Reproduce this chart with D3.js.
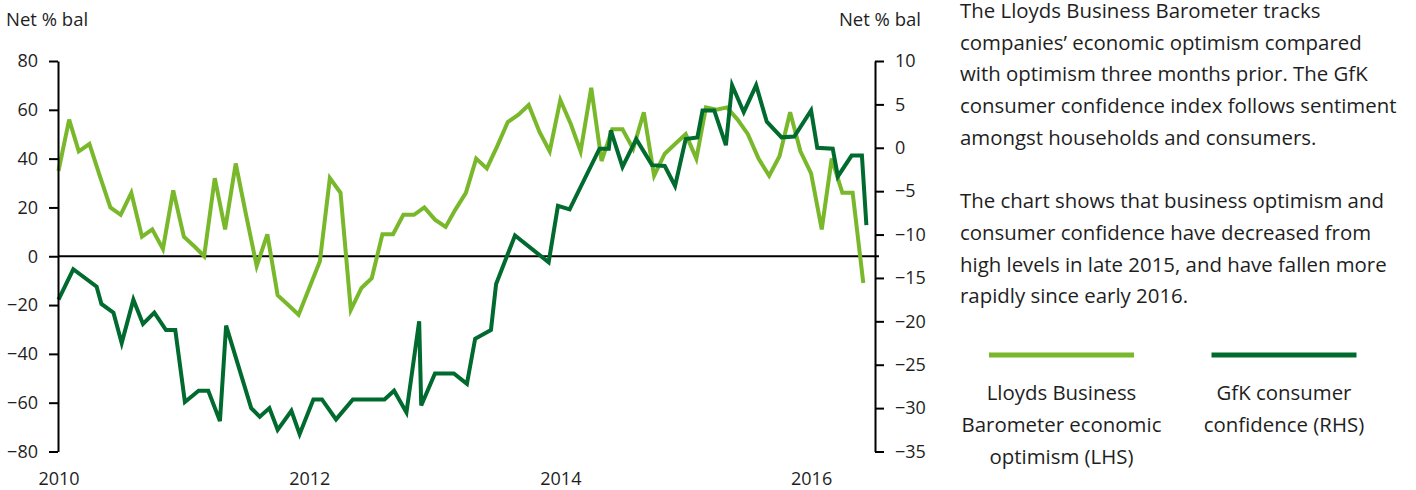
<!DOCTYPE html>
<html>
<head>
<meta charset="utf-8">
<script src="https://cdn.jsdelivr.net/npm/d3@7"></script>
<style>
  body { margin: 0; background: #fff; }
  text { font-family: "Open Sans", sans-serif; fill: #1e1e1e; }
</style>
</head>
<body>
<div id="chart"></div>
<script>
// Lloyds Business Barometer, economic optimism (LHS), monthly
const lloydsMonths = [
  "2010-01","2010-02","2010-03","2010-04","2010-05","2010-06","2010-07","2010-08","2010-09","2010-10","2010-11","2010-12",
  "2011-01","2011-02","2011-03","2011-04","2011-05","2011-06","2011-07","2011-08","2011-09","2011-10","2011-11","2011-12",
  "2012-01","2012-02","2012-03","2012-04","2012-05","2012-06","2012-07","2012-08","2012-09","2012-10","2012-11","2012-12",
  "2013-01","2013-02","2013-03","2013-04","2013-05","2013-06","2013-07","2013-08","2013-09","2013-10","2013-11","2013-12",
  "2014-01","2014-02","2014-03","2014-04","2014-05","2014-06","2014-07","2014-08","2014-09","2014-10","2014-11","2014-12",
  "2015-01","2015-02","2015-03","2015-04","2015-05","2015-06","2015-07","2015-08","2015-09","2015-10","2015-11","2015-12",
  "2016-01","2016-02","2016-03","2016-04","2016-05","2016-06"
];
const lloydsValues = [
  35, 56, 43, 46, 33, 20, 17, 26, 8, 11, 3, 27,
  8, 4, 0, 32, 11, 38, 17, -4, 9, -16, -20, -24,
  -13, -2, 32, 26, -22, -13, -9, 9, 9, 17, 17, 20,
  15, 12, 19, 26, 40, 36, 45, 55, 58, 62, 51, 43,
  64, 54, 43, 69, 39, 52, 52, 44, 59, 33, 42, 46,
  50, 40, 61, 60, 61, 56, 50, 40, 33, 41, 59, 43,
  34, 11, 40, 26, 26, -11
];

// GfK consumer confidence (RHS)
const gfkDates = [
  "2010-01-01","2010-02-13","2010-04-22","2010-05-06","2010-06-10","2010-07-04","2010-08-07","2010-09-04","2010-10-07","2010-11-10","2010-12-07",
  "2011-01-04","2011-02-13","2011-03-13","2011-04-16","2011-05-04","2011-07-16","2011-08-10","2011-09-07","2011-10-01","2011-11-10","2011-12-04",
  "2012-01-13","2012-02-07","2012-03-19","2012-05-07","2012-08-07","2012-09-04","2012-10-10","2012-11-16","2012-11-22",
  "2013-01-01","2013-02-25","2013-04-04","2013-04-28","2013-06-13","2013-06-28","2013-08-22","2013-11-28","2013-12-25",
  "2014-01-28","2014-04-25","2014-05-22","2014-05-28","2014-07-01","2014-08-10","2014-09-25","2014-11-01","2014-12-01",
  "2015-01-01","2015-02-04","2015-02-19","2015-03-25","2015-04-28","2015-05-16","2015-06-19","2015-07-25","2015-08-25","2015-10-07","2015-11-13",
  "2016-01-01","2016-01-19","2016-03-04","2016-03-19","2016-04-28","2016-05-28","2016-06-10"
];
const gfkValues = [
  -17.5, -14, -16, -18, -19, -22.5, -17.5, -20.3, -19, -21, -21,
  -29.3, -28, -28, -31.5, -20.5, -30, -31, -30, -32.5, -30.3, -33,
  -29, -29, -31.3, -29, -29, -28, -30.5, -20, -29.7,
  -26, -26, -27.2, -22, -21, -15.7, -10.1, -13.2, -6.7,
  -7.1, -0.1, -0.1, 2, -2.2, 1, -2, -2.1, -4.4,
  1, 1.2, 4.3, 4.3, 0.3, 7.2, 4.1, 7.2, 3, 1.2, 1.3,
  4.3, 0, -0.1, -3.3, -0.9, -0.9, -8.9
];

const leftTicks = [80, 60, 40, 20, 0, -20, -40, -60, -80];
const rightTicks = [10, 5, 0, -5, -10, -15, -20, -25, -30, -35];
const yearTicks = ["2010", "2012", "2014", "2016"];

const paraOne = [
  "The Lloyds Business Barometer tracks",
  "companies\u2019 economic optimism compared",
  "with optimism three months prior. The GfK",
  "consumer confidence index follows sentiment",
  "amongst households and consumers."
];
const paraTwo = [
  "The chart shows that business optimism and",
  "consumer confidence have decreased from",
  "high levels in late 2015, and have fallen more",
  "rapidly since early 2016."
];
const legendItems = [
  { lines: ["Lloyds Business", "Barometer economic", "optimism (LHS)"], color: "#79b82b" },
  { lines: ["GfK consumer", "confidence (RHS)"], color: "#006a2f" }
];

const width = 1416;
const height = 490;
const lightGreen = "#79b82b";
const darkGreen = "#006a2f";

const svg = d3.select("div#chart").append("svg")
    .attr("width", width)
    .attr("height", height);

const parseMonth = d3.timeParse("%Y-%m");
const parseDay = d3.timeParse("%Y-%m-%d");
const parseYear = d3.timeParse("%Y");

// scales
const xScale = d3.scaleTime()
    .domain([new Date(2010, 0, 1), new Date(2016, 6, 1)])
    .range([58.5, 873.6]);
const yLeft = d3.scaleLinear().domain([-80, 80]).range([451.5, 61]);
const yRight = d3.scaleLinear().domain([-35, 10]).range([451.5, 61]);

const lloyds = lloydsMonths.map((m, i) => ({ date: parseMonth(m), value: lloydsValues[i] }));
const gfk = gfkDates.map((d, i) => ({ date: parseDay(d), value: gfkValues[i] }));

// zero line
svg.append("line")
    .attr("x1", 58).attr("x2", 879)
    .attr("y1", yLeft(0)).attr("y2", yLeft(0))
    .attr("stroke", "#000")
    .attr("stroke-width", 2);

// lines
svg.append("path")
    .datum(lloyds)
    .attr("fill", "none")
    .attr("stroke", lightGreen)
    .attr("stroke-width", 4)
    .attr("d", d3.line().x(d => xScale(d.date)).y(d => yLeft(d.value)));

svg.append("path")
    .datum(gfk)
    .attr("fill", "none")
    .attr("stroke", darkGreen)
    .attr("stroke-width", 4)
    .attr("d", d3.line().x(d => xScale(d.date)).y(d => yRight(d.value)));

// axes
const yaxisLeft = d3.axisLeft(yLeft).tickValues(leftTicks).tickSize(9).tickSizeOuter(0).tickPadding(11);
const yaxisRight = d3.axisRight(yRight).tickValues(rightTicks).tickSize(9).tickSizeOuter(0).tickPadding(11);
const xaxis = d3.axisBottom(xScale).tickValues(yearTicks.map(parseYear))
    .tickFormat(d3.timeFormat("%Y")).tickSize(0).tickPadding(0);

function styleAxis(g) {
  g.selectAll("path, line").attr("stroke", "#000").attr("stroke-width", 2);
  g.selectAll("text").attr("font-size", 18).attr("font-family", "Open Sans").attr("fill", "#1e1e1e");
}

svg.append("g")
    .attr("transform", "translate(58,0)")
    .call(yaxisLeft)
    .call(styleAxis);

svg.append("g")
    .attr("transform", "translate(875,0)")
    .call(yaxisRight)
    .call(styleAxis);

svg.append("g")
    .attr("transform", "translate(0,472)")
    .call(xaxis)
    .call(styleAxis)
    .call(g => g.select(".domain").remove());

// axis titles
svg.append("text").attr("x", 6).attr("y", 26).attr("font-size", 18.5).text("Net % bal");
svg.append("text").attr("x", 921).attr("y", 26).attr("font-size", 18.5)
    .attr("text-anchor", "end").text("Net % bal");

// explanatory text
const lineGap = 31.7;
svg.append("g").selectAll("text")
    .data(paraOne.concat([""], paraTwo))
    .join("text")
    .attr("x", 960)
    .attr("y", (d, i) => 18 + i * lineGap)
    .attr("font-size", 20.4)
    .text(d => d);

// legend
const legendX = [1061.5, 1284];
legendItems.forEach((item, k) => {
  svg.append("line")
      .attr("x1", legendX[k] - 72.5).attr("x2", legendX[k] + 72.5)
      .attr("y1", 355).attr("y2", 355)
      .attr("stroke", item.color)
      .attr("stroke-width", 5);
  svg.append("g").selectAll("text")
      .data(item.lines)
      .join("text")
      .attr("x", legendX[k])
      .attr("y", (d, i) => 400 + i * 32)
      .attr("text-anchor", "middle")
      .attr("font-size", 20.4)
      .text(d => d);
});
</script>
</body>
</html>
